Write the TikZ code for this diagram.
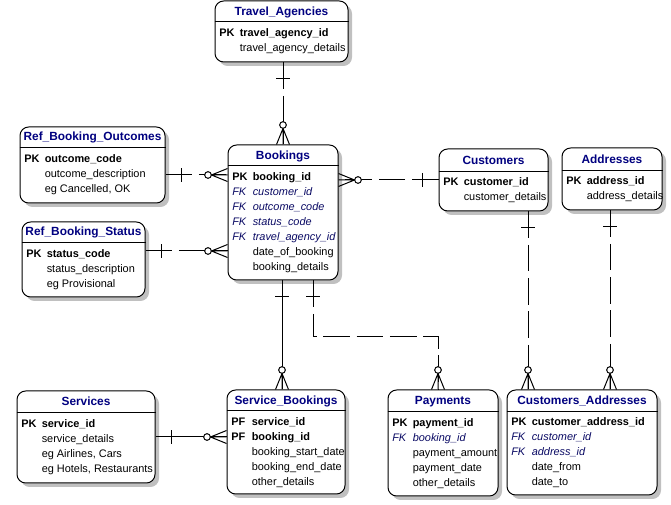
\documentclass[tikz,border=0pt]{standalone}
\usepackage{fontspec}
\setmainfont{Liberation Sans}
\usetikzlibrary{fit,shadows}
\definecolor{navy}{RGB}{0,0,128}
\definecolor{fknavy}{RGB}{10,10,100}
\definecolor{shadowgray}{RGB}{192,192,192}
\newcommand{\ent}[8]{% name, x1, y1, x2, y2, divider y, title, title baseline
  \node[entity, fit={(#2,-#3) (#4,-#5)}] (#1) {};
  \draw[boxline] (#1.west |- 0,-#6) -- (#1.east |- 0,-#6);
  \node[ttl] (#1-t) at ({(#2+#4)/2},-#8) {#7};
}
\newcommand{\krow}[6]{% id, x-left, baseline, style, key, field
  \node[#4] (#1k) at (#2+4,-#3) {#5};
  \node[#4] (#1f) at (#2+24.5,-#3) {#6};
}
\newcommand{\frow}[4]{% id, x-left, baseline, text
  \node[attr] (#1) at (#2+24.5,-#3) {#4};
}
\begin{document}
\begin{tikzpicture}[x=0.75pt,y=0.75pt,
  boxline/.style={line width=0.75pt},
  entity/.style={draw, line width=0.75pt, rounded corners=6.5pt, fill=white, inner sep=0pt,
    drop shadow={shadow xshift=3pt, shadow yshift=-3pt, fill=shadowgray, opacity=1}},
  ttl/.style={anchor=base, inner sep=0pt, font=\fontsize{8.9}{10}\selectfont\bfseries, text=navy},
  pk/.style={anchor=base west, inner sep=0pt, font=\fontsize{8.2}{10}\selectfont\bfseries},
  fk/.style={anchor=base west, inner sep=0pt, font=\fontsize{8.2}{10}\selectfont\itshape, text=fknavy},
  attr/.style={anchor=base west, inner sep=0pt, font=\fontsize{8.2}{10}\selectfont},
  conn/.style={line width=0.75pt},
  nonid/.style={line width=0.75pt, dash pattern=on 20pt off 5pt},
  pics/crowzero/.style={code={
    \draw[line width=0.75pt] (0,6.5) -- (16,0) -- (0,-6.5) (0,0) -- (16,0);
    \draw[line width=0.75pt, fill=white] (19.5,0) circle[radius=2.5pt];}},
  pics/onebar/.style={code={\draw[line width=0.75pt] (16,-7) -- (16,7);}}
]
\useasboundingbox (0,0) rectangle (671,-505);

% Travel_Agencies
\ent{ta}{215}{1}{348}{62}{22}{Travel\_Agencies}{16}
\krow{ta1}{215}{37}{pk}{PK}{travel\_agency\_id}
\frow{ta2}{215}{52}{travel\_agency\_details}

% Ref_Booking_Outcomes
\ent{rbo}{20}{127}{165}{203}{148}{Ref\_Booking\_Outcomes}{141}
\krow{rbo1}{20}{163}{pk}{PK}{outcome\_code}
\frow{rbo2}{20}{178}{outcome\_description}
\frow{rbo3}{20}{193}{eg Cancelled, OK}

% Ref_Booking_Status
\ent{rbs}{22}{222}{145}{297}{243}{Ref\_Booking\_Status}{236}
\krow{rbs1}{22}{258}{pk}{PK}{status\_code}
\frow{rbs2}{22}{273}{status\_description}
\frow{rbs3}{22}{288}{eg Provisional}

% Bookings
\ent{bk}{228}{145}{338}{280}{166}{Bookings}{160}
\krow{bk1}{228}{181}{pk}{PK}{booking\_id}
\krow{bk2}{228}{196}{fk}{FK}{customer\_id}
\krow{bk3}{228}{211}{fk}{FK}{outcome\_code}
\krow{bk4}{228}{226}{fk}{FK}{status\_code}
\krow{bk5}{228}{241}{fk}{FK}{travel\_agency\_id}
\frow{bk6}{228}{256}{date\_of\_booking}
\frow{bk7}{228}{271}{booking\_details}

% Customers
\ent{cu}{439}{149}{548}{211}{172}{Customers}{165}
\krow{cu1}{439}{186}{pk}{PK}{customer\_id}
\frow{cu2}{439}{201}{customer\_details}

% Addresses
\ent{ad}{562}{148}{662}{210}{171}{Addresses}{164}
\krow{ad1}{562}{185}{pk}{PK}{address\_id}
\frow{ad2}{562}{200}{address\_details}

% Services
\ent{sv}{17}{391}{155}{483}{413}{Services}{406}
\krow{sv1}{17}{428}{pk}{PK}{service\_id}
\frow{sv2}{17}{443}{service\_details}
\frow{sv3}{17}{458}{eg Airlines, Cars}
\frow{sv4}{17}{473}{eg Hotels, Restaurants}

% Service_Bookings
\ent{sb}{227}{390}{345}{494}{411}{Service\_Bookings}{405}
\krow{sb1}{227}{426}{pk}{PF}{service\_id}
\krow{sb2}{227}{441}{pk}{PF}{booking\_id}
\frow{sb3}{227}{456}{booking\_start\_date}
\frow{sb4}{227}{471}{booking\_end\_date}
\frow{sb5}{227}{486}{other\_details}

% Payments
\ent{py}{388}{390}{498}{496}{412}{Payments}{405}
\krow{py1}{388}{427}{pk}{PK}{payment\_id}
\krow{py2}{388}{442}{fk}{FK}{booking\_id}
\frow{py3}{388}{457}{payment\_amount}
\frow{py4}{388}{472}{payment\_date}
\frow{py5}{388}{487}{other\_details}

% Customers_Addresses
\ent{ca}{507}{390}{657}{495}{412}{Customers\_Addresses}{405}
\krow{ca1}{507}{426}{pk}{PK}{customer\_address\_id}
\krow{ca2}{507}{441}{fk}{FK}{customer\_id}
\krow{ca3}{507}{456}{fk}{FK}{address\_id}
\frow{ca4}{507}{471}{date\_from}
\frow{ca5}{507}{486}{date\_to}

% helper coordinates for connector lines
\coordinate (yo) at (0,-175);
\coordinate (ys) at (0,-251);
\coordinate (yc) at (0,-180);
\coordinate (yv) at (0,-437);
\coordinate (xsb) at (282,0);
\coordinate (xp1) at (313,0);
\coordinate (xp2) at (438,0);
\coordinate (yp) at (0,-337);
\coordinate (xc) at (528,0);
\coordinate (xa) at (610,0);

% Travel_Agencies -> Bookings
\draw[nonid] (bk.north |- ta.south) -- (bk.north);
\pic[rotate=-90] at (bk.north |- ta.south) {onebar};
\pic[rotate=90] at (bk.north) {crowzero};

% Ref_Booking_Outcomes -> Bookings
\draw[nonid] (rbo.east |- yo) -- (bk.west |- yo);
\pic at (rbo.east |- yo) {onebar};
\pic[rotate=180] at (bk.west |- yo) {crowzero};

% Ref_Booking_Status -> Bookings
\draw[nonid] (rbs.east |- ys) -- (bk.west |- ys);
\pic at (rbs.east |- ys) {onebar};
\pic[rotate=180] at (bk.west |- ys) {crowzero};

% Customers -> Bookings
\draw[nonid] (cu.west |- yc) -- (bk.east |- yc);
\pic[rotate=180] at (cu.west |- yc) {onebar};
\pic at (bk.east |- yc) {crowzero};

% Bookings -> Service_Bookings
\draw[conn] (xsb |- bk.south) -- (xsb |- sb.north);
\pic[rotate=-90] at (xsb |- bk.south) {onebar};
\pic[rotate=90] at (xsb |- sb.north) {crowzero};

% Bookings -> Payments
\draw[nonid] (xp1 |- bk.south) -- (xp1 |- yp) -- (xp2 |- yp) -- (xp2 |- py.north);
\pic[rotate=-90] at (xp1 |- bk.south) {onebar};
\pic[rotate=90] at (xp2 |- py.north) {crowzero};

% Customers -> Customers_Addresses
\draw[nonid] (xc |- cu.south) -- (xc |- ca.north);
\pic[rotate=-90] at (xc |- cu.south) {onebar};
\pic[rotate=90] at (xc |- ca.north) {crowzero};

% Addresses -> Customers_Addresses
\draw[nonid] (xa |- ad.south) -- (xa |- ca.north);
\pic[rotate=-90] at (xa |- ad.south) {onebar};
\pic[rotate=90] at (xa |- ca.north) {crowzero};

% Services -> Service_Bookings
\draw[conn] (sv.east |- yv) -- (sb.west |- yv);
\pic at (sv.east |- yv) {onebar};
\pic[rotate=180] at (sb.west |- yv) {crowzero};
\end{tikzpicture}
\end{document}
